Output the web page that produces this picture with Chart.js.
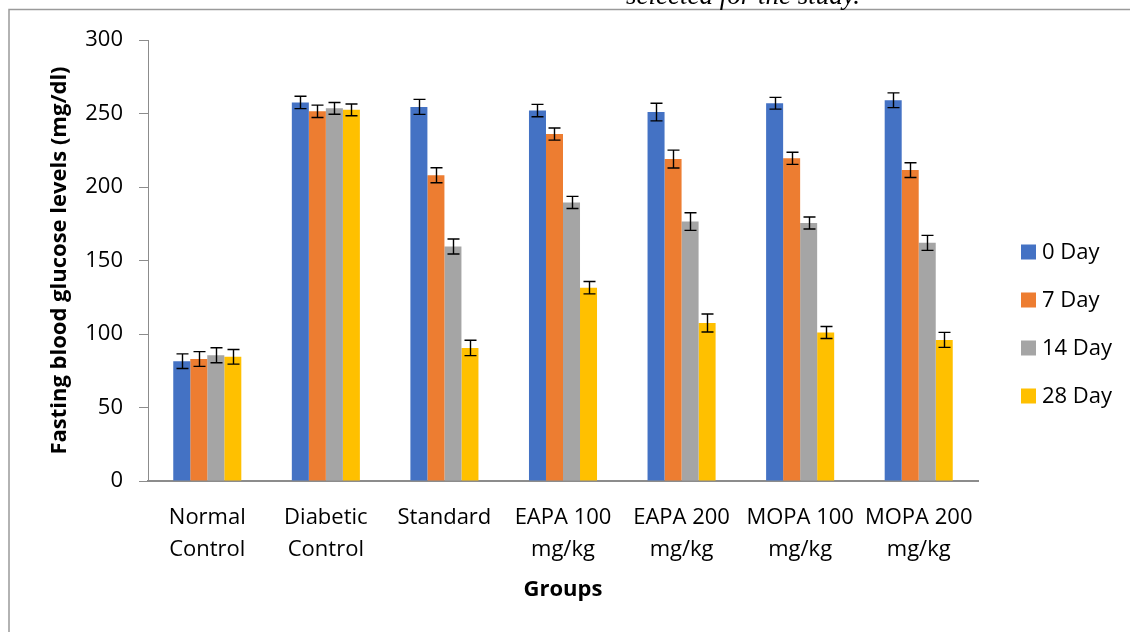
<!DOCTYPE html>
<html>
<head>
<meta charset="utf-8">
<script src="https://cdn.jsdelivr.net/npm/chart.js@4.4.1/dist/chart.umd.min.js"></script>
<style>
  html, body { margin: 0; padding: 0; background: #fff; }
  #wrap { position: relative; width: 1130px; height: 632px; }
</style>
</head>
<body>
<div id="wrap"><canvas id="c" width="1130" height="632"></canvas></div>
<script>
// Treatment groups (x-axis categories, multi-line labels)
const groups = [
  ['Normal', 'Control'],
  ['Diabetic', 'Control'],
  ['Standard'],
  ['EAPA 100', 'mg/kg'],
  ['EAPA 200', 'mg/kg'],
  ['MOPA 100', 'mg/kg'],
  ['MOPA 200', 'mg/kg']
];

// Fasting blood glucose (mg/dl), mean per time point
const day0  = [81.5, 257.5, 254.5, 252, 251, 257, 259];
const day7  = [83, 251.5, 208, 236, 219, 219.5, 211.5];
const day14 = [85.5, 253.5, 159.5, 189.5, 176.5, 175.5, 162];
const day28 = [84.5, 252.5, 90.5, 131.5, 107.5, 101, 96];

// Standard error for each mean
const err0  = [5, 4.2, 5.1, 4.2, 6, 4, 5];
const err7  = [5, 4.2, 5.1, 4.1, 6.1, 4.1, 5];
const err14 = [5.1, 4, 5.1, 4.1, 6, 4.1, 5.1];
const err28 = [5, 4, 5.2, 4.2, 6.1, 4.1, 5.1];

const seriesNames = ['0 Day', '7 Day', '14 Day', '28 Day'];
const yTicks = [0, 50, 100, 150, 200, 250, 300];

const FONT = '"Open Sans", Lato, sans-serif';

// Draws mean ± SE whiskers on top of each bar
const errorBars = {
  id: 'errorBars',
  afterDatasetsDraw(chart) {
    const ctx = chart.ctx;
    const y = chart.scales.y;
    ctx.save();
    ctx.strokeStyle = '#000';
    ctx.lineWidth = 1.4;
    chart.data.datasets.forEach((ds, i) => {
      const meta = chart.getDatasetMeta(i);
      meta.data.forEach((bar, j) => {
        const v = ds.data[j], e = ds.errors[j];
        const x = Math.round(bar.x) + 0.5;
        const yTop = y.getPixelForValue(v + e);
        const yBot = y.getPixelForValue(v - e);
        const cap = 6;
        ctx.beginPath();
        ctx.moveTo(x, yTop); ctx.lineTo(x, yBot);
        ctx.moveTo(x - cap, yTop); ctx.lineTo(x + cap, yTop);
        ctx.moveTo(x - cap, yBot); ctx.lineTo(x + cap, yBot);
        ctx.stroke();
      });
    });
    ctx.restore();
  }
};

// Square-marker legend stacked at the right of the plot
const sideLegend = {
  id: 'sideLegend',
  afterDraw(chart) {
    const ctx = chart.ctx;
    ctx.save();
    ctx.font = '22px ' + FONT;
    ctx.textBaseline = 'middle';
    ctx.textAlign = 'left';
    const x0 = 1021, y0 = 252, step = 48;
    chart.data.datasets.forEach((ds, i) => {
      const cy = y0 + i * step;
      ctx.fillStyle = ds.backgroundColor;
      ctx.fillRect(x0, cy - 7.5, 15, 15);
      ctx.fillStyle = '#000';
      ctx.fillText(ds.label, x0 + 21, cy + 1);
    });
    ctx.restore();
  }
};

// Page frame and the caption line running above it
const frame = {
  id: 'frame',
  beforeDraw(chart) {
    const ctx = chart.ctx;
    ctx.save();
    ctx.fillStyle = '#fff';
    ctx.fillRect(0, 0, chart.width, chart.height);
    ctx.strokeStyle = '#9a9a9a';
    ctx.lineWidth = 1.5;
    ctx.beginPath();
    ctx.moveTo(9, 632); ctx.lineTo(9, 9.5); ctx.lineTo(1130, 9.5);
    ctx.stroke();
    ctx.fillStyle = '#000';
    ctx.font = 'italic 27px "Liberation Serif", serif';
    ctx.textBaseline = 'alphabetic';
    ctx.fillText('selected for the study.', 626, 4);
    ctx.restore();
  }
};

const colors = ['#4472C4', '#ED7D31', '#A5A5A5', '#FFC000'];
const values = [day0, day7, day14, day28];
const errors = [err0, err7, err14, err28];

new Chart(document.getElementById('c'), {
  type: 'bar',
  data: {
    labels: groups,
    datasets: seriesNames.map((name, i) => ({
      label: name,
      data: values[i],
      errors: errors[i],
      backgroundColor: colors[i],
      borderWidth: 0,
      categoryPercentage: 0.574,
      barPercentage: 1.0
    }))
  },
  options: {
    responsive: false,
    animation: false,
    devicePixelRatio: 1,
    layout: { padding: { left: 0, right: 152, top: 40, bottom: 0 } },
    plugins: {
      legend: { display: false },
      title: { display: false },
      tooltip: { enabled: false }
    },
    scales: {
      x: {
        grid: { display: false, drawTicks: false },
        border: { display: true, color: '#8c8c8c', width: 2 },
        ticks: {
          color: '#000',
          padding: 21,
          maxRotation: 0,
          autoSkip: false,
          font: { family: FONT, size: 22, lineHeight: 1.45 }
        },
        title: {
          display: true,
          text: 'Groups',
          color: '#000',
          font: { family: FONT, size: 22, weight: 'bold', lineHeight: 1.2 },
          padding: { top: 0, bottom: 29 }
        },
        afterFit(scale) { scale.height = 151; }
      },
      y: {
        min: 0,
        max: 300,
        afterBuildTicks(scale) { scale.ticks = yTicks.map(v => ({ value: v })); },
        grid: { drawOnChartArea: false, drawTicks: true, tickLength: 9, color: '#8c8c8c' },
        border: { display: true, color: '#8c8c8c', width: 1 },
        ticks: {
          color: '#000',
          padding: 16,
          font: { family: FONT, size: 22 }
        },
        title: {
          display: true,
          text: 'Fasting blood glucose levels (mg/dl)',
          color: '#000',
          font: { family: FONT, size: 22, weight: 'bold', lineHeight: 1.2 },
          padding: { top: 47, bottom: 0 }
        },
        afterFit(scale) { scale.width = 148; }
      }
    }
  },
  plugins: [frame, errorBars, sideLegend]
});
</script>
</body>
</html>
